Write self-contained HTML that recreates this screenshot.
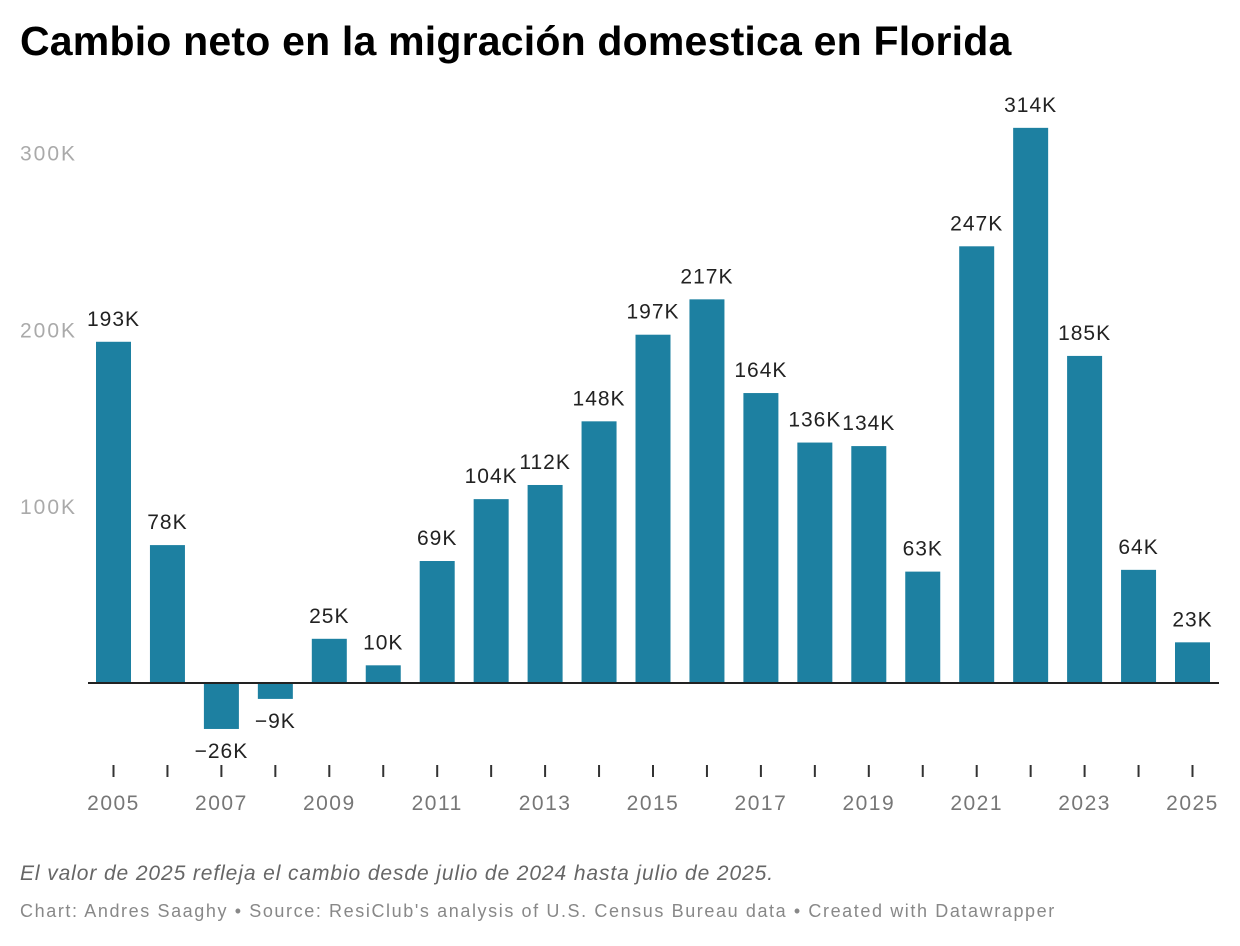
<!DOCTYPE html>
<html><head><meta charset="utf-8">
<style>
body{margin:0;background:#fff;font-family:"Liberation Sans",sans-serif;}
#wrap{position:relative;width:1240px;height:946px;overflow:hidden}
h1{position:absolute;left:20px;top:18px;margin:0;font-size:41px;font-weight:bold;color:#000;letter-spacing:0.2px}
.note{position:absolute;left:20px;top:862px;font-size:21px;font-style:italic;color:#666;letter-spacing:0.9px}
.credit{position:absolute;left:20px;top:901px;font-size:18px;color:#888;letter-spacing:1.6px}
</style></head><body>
<div id="wrap">
<h1>Cambio neto en la migración domestica en Florida</h1>
<svg id="chart" width="1240" height="946" style="position:absolute;left:0;top:0"></svg>
<div class="note">El valor de 2025 refleja el cambio desde julio de 2024 hasta julio de 2025.</div>
<div class="credit">Chart: Andres Saaghy • Source: ResiClub's analysis of U.S. Census Bureau data • Created with Datawrapper</div>
</div>
<script>
const years=[2005,2006,2007,2008,2009,2010,2011,2012,2013,2014,2015,2016,2017,2018,2019,2020,2021,2022,2023,2024,2025];
const values=[193,78,-26,-9,25,10,69,104,112,148,197,217,164,136,134,63,247,314,185,64,23];
const yTicks=[100,200,300];
const NS="http://www.w3.org/2000/svg";
const svg=document.getElementById('chart');
const zeroY=683, pxPer=1.768, x0=113.5, step=53.95, bw=35;
const y=v=>zeroY-v*pxPer;
const x=i=>x0+i*step;
function mk(t,a){const e=document.createElementNS(NS,t);for(const k in a)e.setAttribute(k,a[k]);svg.appendChild(e);return e;}
yTicks.forEach(v=>{
  const t=mk('text',{x:20,y:y(v)+8,'font-size':21,'letter-spacing':2,fill:'#aaa','font-family':'Liberation Sans, sans-serif'});
  t.textContent=v+'K';
  
  
});
values.forEach((v,i)=>{
  const top=Math.min(y(v),zeroY),h=Math.abs(y(v)-zeroY);
  const r=mk('rect',{x:x(i)-bw/2,y:top,width:bw,height:h,fill:'#1d80a1'});
  
  
  const ly=v>=0?y(v)-16:y(v)+29;
  const t=mk('text',{x:x(i),y:ly,'text-anchor':'middle','font-size':21,'letter-spacing':1,fill:'#222','font-family':'Liberation Sans, sans-serif'});
  t.textContent=(v<0?'\u2212'+(-v):v)+'K';
  
  
  const tk=mk('line',{x1:x(i),x2:x(i),y1:765,y2:777,stroke:'#333','stroke-width':2});
  
  
  if(i%2===0){
    const yl=mk('text',{x:x(i),y:810,'text-anchor':'middle','font-size':21,'letter-spacing':1.5,fill:'#777','font-family':'Liberation Sans, sans-serif'});
    yl.textContent=years[i];
    
    
  }
});
const base=mk('line',{x1:88,x2:1219,y1:zeroY,y2:zeroY,stroke:'#222','stroke-width':2});


</script>
</body></html>
